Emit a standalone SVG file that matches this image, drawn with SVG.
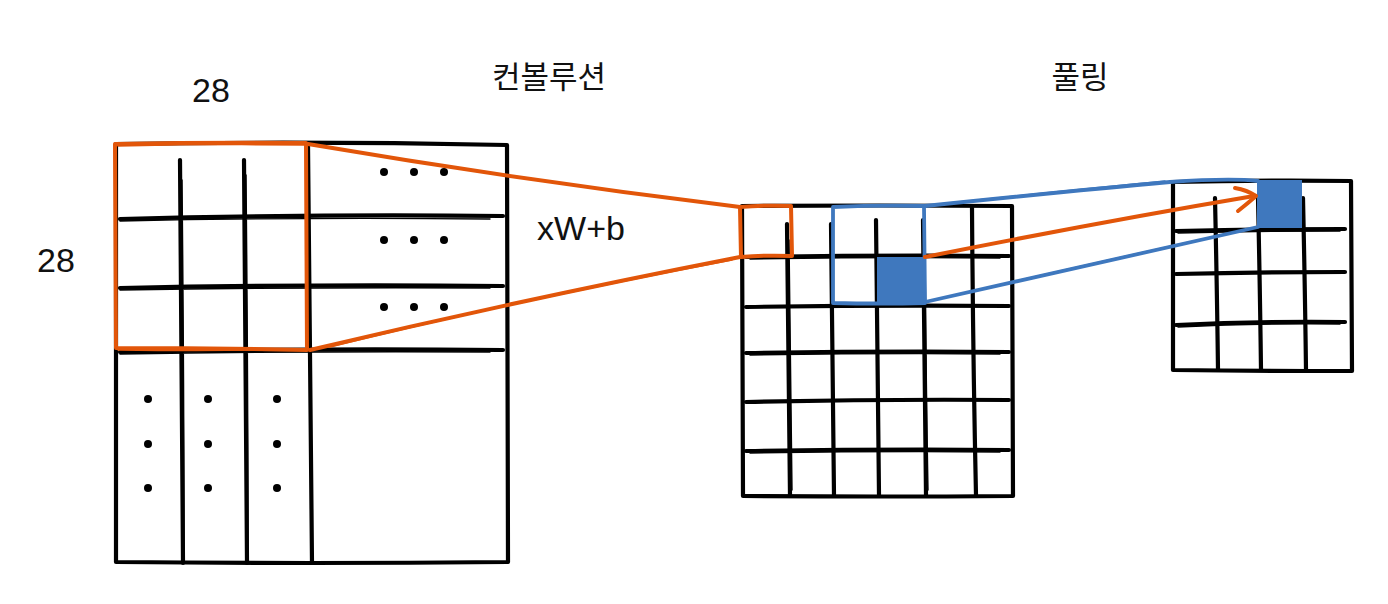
<svg xmlns="http://www.w3.org/2000/svg" width="1388" height="604" viewBox="0 0 1388 604">
<style>
.g{fill:none;stroke:#000;stroke-width:4.2;stroke-linecap:round;stroke-linejoin:round}
.gt{fill:none;stroke:#000;stroke-width:1.4;stroke-linecap:round}
.o{fill:none;stroke:#E2560A;stroke-width:4;stroke-linecap:round;stroke-linejoin:round}
.ot{fill:none;stroke:#E2560A;stroke-width:1.4;stroke-linecap:round}
.b{fill:none;stroke:#3F78BE;stroke-width:3.8;stroke-linecap:round;stroke-linejoin:round}
.bt{fill:none;stroke:#3F78BE;stroke-width:1.4;stroke-linecap:round}
.fill{fill:#3F78BE}
.dot{fill:#000}
.t{font-family:"Liberation Sans","Noto Sans CJK KR",sans-serif;font-size:34px;fill:#111;text-anchor:middle}
.k{font-family:"Noto Sans CJK KR",sans-serif;font-size:31px;fill:#111;text-anchor:middle}
</style>
<rect width="1388" height="604" fill="#fff"/>

<g id="input-grid">
  <path class="g" d="M116 144 Q310 141 507 145 L508 562 Q310 564 116 562 Z"/>
  <path class="g" d="M180 160 Q182 360 183 563"/>
  <path class="g" d="M244 160 Q246 360 247 563"/>
  <path class="g" d="M308 145 Q310 360 312 563"/>
  <path class="g" d="M120 219 Q310 214 503 216"/>
  <path class="g" d="M120 288 Q310 284 503 286"/>
  <path class="g" d="M120 352 Q310 348 503 350"/>
  <path class="gt" d="M120 221 Q300 217 490 219 M120 290 Q300 287 490 288 M120 354 Q300 351 490 352 M182 180 Q184 380 184 558 M246 175 Q248 380 248 558"/>
  <g class="dot">
    <circle cx="384" cy="172" r="4"/><circle cx="414" cy="172" r="4"/><circle cx="444" cy="172" r="4"/>
    <circle cx="384" cy="240" r="4"/><circle cx="414" cy="240" r="4"/><circle cx="444" cy="240" r="4"/>
    <circle cx="384" cy="307" r="4"/><circle cx="414" cy="307" r="4"/><circle cx="444" cy="307" r="4"/>
    <circle cx="148" cy="399" r="4"/><circle cx="208" cy="399" r="4"/><circle cx="277" cy="399" r="4"/>
    <circle cx="148" cy="444" r="4"/><circle cx="208" cy="444" r="4"/><circle cx="277" cy="444" r="4"/>
    <circle cx="148" cy="488" r="4"/><circle cx="208" cy="488" r="4"/><circle cx="277" cy="488" r="4"/>
  </g>
  <path class="o" d="M115 144 Q210 142 306 143 L307 350 Q210 348 116 348 Z"/>
  <path class="ot" d="M118 146 Q210 144 304 145 M118 350 Q200 351 265 350"/>
</g>

<g id="conv-grid">
  <path class="g" d="M742 206 Q880 205 1012 206 L1013 496 Q880 497 743 496 Z"/>
  <path class="g" d="M787 224 Q789 360 790 495"/>
  <path class="g" d="M831 224 Q833 360 834 495"/>
  <path class="g" d="M876 220 Q877 360 879 495"/>
  <path class="g" d="M923 220 Q924 360 926 495"/>
  <path class="g" d="M972 208 Q973 360 976 495"/>
  <path class="g" d="M746 257 Q880 255 1009 256"/>
  <path class="g" d="M746 307 Q880 305 1009 306"/>
  <path class="g" d="M746 353 Q880 351 1009 352"/>
  <path class="g" d="M746 402 Q880 399 1009 400"/>
  <path class="g" d="M746 451 Q880 449 1009 450"/>
  <path class="gt" d="M750 259 Q880 257 1000 258 M750 355 Q880 353 1000 354 M750 453 Q880 451 1000 452 M789 240 Q791 380 792 490 M925 240 Q926 380 928 490"/>
  <rect class="fill" x="877" y="257" width="47" height="48"/>
  <path class="b" d="M833 207 Q880 205 924 206 L925 303 Q880 304 833 303 Z"/>
  <path class="o" d="M740 207 Q765 205 791 206 L792 256 Q765 255 741 257 Z"/>
</g>

<g id="pool-grid">
  <path class="g" d="M1173 182 Q1260 180 1351 181 L1352 371 Q1260 371 1173 370 Z"/>
  <path class="g" d="M1215 198 Q1217 290 1218 370"/>
  <path class="g" d="M1258 198 Q1260 290 1261 370"/>
  <path class="g" d="M1303 198 Q1305 290 1306 370"/>
  <path class="g" d="M1176 231 Q1260 229 1345 229"/>
  <path class="g" d="M1176 274 Q1260 272 1345 272"/>
  <path class="g" d="M1176 325 Q1260 321 1345 322"/>
  <path class="gt" d="M1178 233 Q1260 231 1340 231 M1178 327 Q1260 323 1340 324"/>
  <rect class="fill" x="1257" y="180" width="45" height="48"/>
</g>

<g id="connectors">
  <path class="o" d="M308 144 Q520 180 740 207"/>
  <path class="ot" d="M330 147 Q520 181 735 206"/>
  <path class="o" d="M310 350 Q520 300 740 257"/>
  <path class="ot" d="M330 347 Q520 300 732 260"/>
  <path class="b" d="M925 206 Q1080 190 1170 182 Q1230 178 1258 181"/>
  <path class="bt" d="M930 205 Q1080 189 1165 181"/>
  <path class="b" d="M925 302 Q1100 262 1258 227"/>
  <path class="bt" d="M935 300 Q1100 261 1250 229"/>
  <path class="o" d="M925 257 Q1100 222 1254 196"/>
  <path class="ot" d="M935 255 Q1100 221 1245 198"/>
  <path class="o" d="M1235 188 Q1247 190 1256 196 Q1247 204 1238 211"/>
</g>

<g id="labels">
  <text class="t" x="211" y="102">28</text>
  <text class="t" x="56" y="272">28</text>
  <text class="k" x="549" y="88">컨볼루션</text>
  <text class="t" x="581" y="240">xW+b</text>
  <text class="k" x="1080" y="88">풀링</text>
</g>
</svg>
